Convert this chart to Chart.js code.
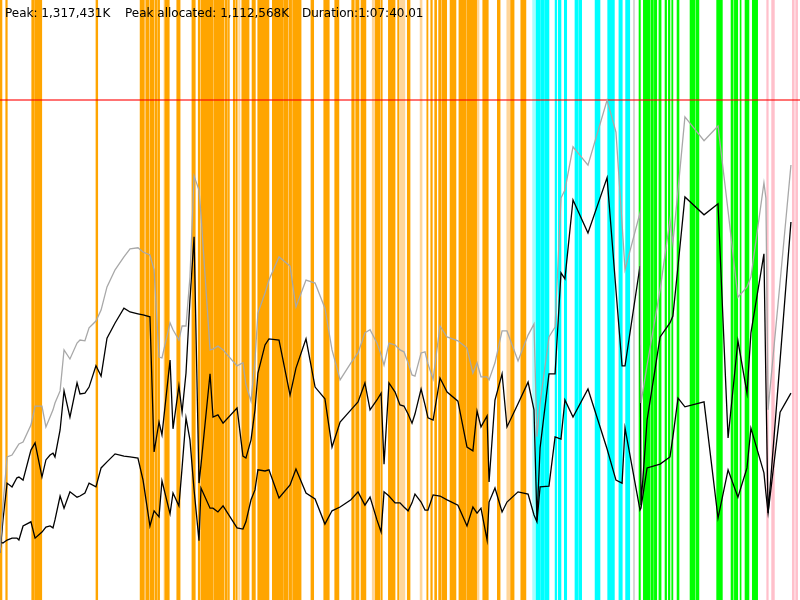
<!DOCTYPE html>
<html>
<head>
<meta charset="utf-8">
<title>Memory usage</title>
<script src="https://cdn.jsdelivr.net/npm/chart.js@4.4.1/dist/chart.umd.min.js"></script>
<style>
  html, body { margin: 0; padding: 0; background: #fff; }
  #wrap { position: relative; width: 800px; height: 600px; overflow: hidden; }
  #memChart { display: block; }
  #stats { position: absolute; top: 6px; left: 0; width: 800px; height: 14px;
           font: 12px/14px "DejaVu Sans", sans-serif; color: #000; white-space: pre; }
  #stats span { position: absolute; top: 0; }
</style>
</head>
<body>
<div id="wrap">
  <canvas id="memChart" width="800" height="600"></canvas>
  <div id="stats"><span id="s-peak" style="left:5px"></span><span id="s-alloc" style="left:125px"></span><span id="s-dur" style="left:302px"></span></div>
</div>
<script>
// run summary
const PEAK_K = 1317431;
const PEAK_ALLOC_K = 1112568;
const DURATION_S = 4060.01;
const DURATION_TEXT = '1:07:40.01';

// sample times (seconds from start)
const times = [
  0, 15, 36, 61, 86, 96, 117, 157, 178, 213,
  233, 254, 269, 279, 305, 325, 355, 391, 406, 431,
  452, 487, 513, 543, 584, 629, 660, 700, 726, 761,
  782, 807, 822, 863, 878, 908, 924, 944, 964, 985,
  1010, 1020, 1066, 1081, 1106, 1132, 1203, 1233, 1248, 1274,
  1294, 1309, 1345, 1365, 1416, 1472, 1502, 1553, 1599, 1649,
  1685, 1726, 1781, 1817, 1852, 1878, 1913, 1934, 1949, 1974,
  2005, 2030, 2050, 2071, 2091, 2106, 2137, 2157, 2172, 2198,
  2233, 2269, 2324, 2370, 2400, 2421, 2441, 2472, 2482, 2512,
  2548, 2573, 2629, 2680, 2710, 2725, 2741, 2786, 2817, 2847,
  2867, 2908, 2984, 3081, 3126, 3157, 3172, 3248, 3253, 3284,
  3350, 3400, 3415, 3441, 3476, 3573, 3644, 3695, 3745, 3791,
  3811, 3877, 3887, 3898, 3959, 4014
];

// memory in thousands of K
const totalMem = [
  124, 250, 377, 382, 403, 411, 416, 461, 511, 511,
  456, 482, 501, 519, 551, 659, 635, 677, 685, 683,
  717, 735, 764, 825, 870, 904, 925, 928, 917, 909,
  870, 640, 638, 730, 712, 685, 722, 722, 851, 1117,
  1080, 1015, 659, 661, 669, 659, 617, 625, 567, 524,
  632, 756, 809, 843, 904, 880, 772, 843, 835, 769,
  659, 580, 625, 651, 704, 712, 677, 646, 619, 677,
  672, 659, 654, 625, 593, 590, 651, 654, 622, 582,
  722, 693, 683, 664, 598, 625, 588, 588, 580, 625,
  709, 709, 630, 698, 727, 430, 519, 693, 719, 1059,
  1080, 1194, 1146, 1317, 1233, 991, 870, 1020, 519, 619,
  817, 1001, 941, 1080, 1273, 1210, 1249, 1025, 798, 825,
  851, 1099, 1059, 501, 838, 1146
];
const allocMem = [
  124, 211, 308, 298, 322, 324, 316, 395, 414, 324,
  369, 382, 387, 377, 448, 551, 482, 572, 543, 545,
  561, 617, 590, 690, 730, 769, 759, 754, 751, 746,
  390, 469, 435, 632, 451, 564, 495, 598, 791, 957,
  308, 356, 596, 482, 488, 466, 506, 379, 374, 422,
  501, 598, 672, 688, 685, 540, 611, 688, 561, 530,
  403, 469, 501, 522, 572, 501, 527, 545, 358, 572,
  548, 514, 511, 490, 466, 490, 556, 514, 480, 474,
  585, 548, 524, 403, 393, 498, 456, 485, 311, 527,
  596, 456, 517, 574, 501, 211, 401, 596, 596, 862,
  846, 1054, 967, 1113, 817, 617, 617, 880, 250, 474,
  693, 730, 748, 880, 1062, 1015, 1044, 427, 683, 545,
  704, 912, 572, 229, 632, 996
];
const liveMem = [
  153, 150, 158, 163, 163, 158, 195, 206, 163, 179,
  192, 195, 190, 211, 274, 242, 285, 271, 274, 282,
  308, 298, 348, 364, 385, 379, 377, 374, 316, 195,
  235, 219, 314, 227, 282, 248, 348, 480, 422, 290,
  156, 295, 242, 242, 232, 248, 190, 187, 206, 264,
  290, 343, 340, 343, 269, 303, 345, 282, 266, 200,
  235, 245, 264, 285, 250, 271, 211, 179, 285, 274,
  256, 256, 245, 235, 256, 279, 258, 237, 237, 277,
  274, 264, 250, 195, 245, 229, 242, 158, 258, 295,
  232, 258, 285, 279, 224, 206, 298, 300, 430, 424,
  527, 482, 556, 398, 316, 308, 453, 237, 242, 348,
  358, 377, 430, 532, 509, 522, 216, 343, 271, 348,
  453, 335, 282, 229, 495, 545
];

// event spans [start, end] in seconds
const orangeSpans = [
  [0, 10], [29, 37], [161, 173], [176, 212], [487, 496],
  [711, 732], [741, 756], [761, 782], [787, 795], [800, 810],
  [837, 859], [897, 914], [974, 991], [1006, 1015], [1020, 1082],
  [1086, 1137], [1142, 1154], [1159, 1164], [1184, 1193], [1198, 1204],
  [1227, 1264], [1279, 1296], [1308, 1365], [1382, 1438], [1441, 1450],
  [1453, 1460], [1467, 1480], [1485, 1528], [1578, 1592], [1643, 1671],
  [1700, 1720], [1785, 1798], [1805, 1822], [1832, 1857], [1905, 1929],
  [1934, 1940], [1971, 2005], [2018, 2025], [2067, 2081], [2166, 2172],
  [2186, 2194], [2206, 2216], [2226, 2237], [2242, 2267], [2284, 2314],
  [2329, 2365], [2369, 2419], [2450, 2478], [2524, 2538], [2592, 2609],
  [2643, 2669]
];
const paleSpans = [
  [734, 740], [832, 837], [1211, 1218], [1463, 1467], [1697, 1700],
  [1889, 1905], [2030, 2055], [2132, 2142], [2422, 2431], [2572, 2592]
];
const cyanSpans = [
  [2720, 2741], [2744, 2761], [2764, 2786], [2817, 2825], [2833, 2847],
  [2864, 2876], [2918, 2933], [2937, 2952], [3020, 3045], [3084, 3118],
  [3141, 3158], [3175, 3196]
];
const paleCyanSpans = [[2703, 2715]];
const greySpans = [[3215, 3220]];
const greenSpans = [
  [3243, 3250], [3265, 3299], [3304, 3316], [3321, 3333], [3344, 3355],
  [3375, 3383], [3392, 3400], [3409, 3415], [3436, 3446], [3502, 3527],
  [3532, 3547], [3637, 3666], [3710, 3721], [3727, 3744], [3756, 3761],
  [3781, 3801], [3818, 3845]
];
const pinkSpans = [[3891, 3899], [3916, 3930], [4021, 4031], [4038, 4048]];

// header text
const fmt = n => n.toLocaleString('en-US');
document.getElementById('s-peak').textContent = 'Peak: ' + fmt(PEAK_K) + 'K';
document.getElementById('s-alloc').textContent = 'Peak allocated: ' + fmt(PEAK_ALLOC_K) + 'K';
document.getElementById('s-dur').textContent = 'Duration:' + DURATION_TEXT;

const peakMem = PEAK_K / 1000;
const toPoints = vals => times.map((t, i) => ({ x: t, y: vals[i] }));

function lineSet(vals, color) {
  return {
    type: 'line', data: toPoints(vals), borderColor: color, borderWidth: 1.3,
    pointRadius: 0, tension: 0, fill: false, order: 0, xAxisID: 'x', yAxisID: 'y'
  };
}
function barSet(spans, color) {
  return {
    type: 'bar', indexAxis: 'y', xAxisID: 'x', yAxisID: 'yBand',
    data: spans.map(s => ({ x: s, y: 'gc' })),
    backgroundColor: color, borderWidth: 0,
    barPercentage: 1, categoryPercentage: 1, grouped: false, order: 2
  };
}

const ctx = document.getElementById('memChart').getContext('2d');
const memChart = new Chart(ctx, {
  type: 'line',
  data: {
    datasets: [
      lineSet(totalMem, '#a8a8a8'),
      lineSet(allocMem, '#000000'),
      lineSet(liveMem, '#000000'),
      {
        type: 'line', data: [{ x: 0, y: peakMem }, { x: DURATION_S, y: peakMem }],
        borderColor: 'rgba(255,0,0,0.55)', borderWidth: 2, pointRadius: 0,
        order: 1, xAxisID: 'x', yAxisID: 'y'
      },
      barSet(orangeSpans, '#ffa500'),
      barSet(paleSpans, '#ffd69a'),
      barSet(cyanSpans, '#00ffff'),
      barSet(paleCyanSpans, '#a8ffff'),
      barSet(greySpans, '#d0d0d0'),
      barSet(greenSpans, '#00ff00'),
      barSet(pinkSpans, '#ffc0cb')
    ]
  },
  options: {
    responsive: false,
    devicePixelRatio: 1,
    animation: false,
    events: [],
    layout: { padding: 0 },
    scales: {
      x: { type: 'linear', min: 0, max: DURATION_S, display: false },
      y: { type: 'linear', min: 0, max: peakMem * 1.2, display: false },
      yBand: { type: 'category', axis: 'y', labels: ['gc'], offset: true, display: false }
    },
    plugins: {
      legend: { display: false },
      tooltip: { enabled: false }
    }
  }
});
</script>
</body>
</html>
